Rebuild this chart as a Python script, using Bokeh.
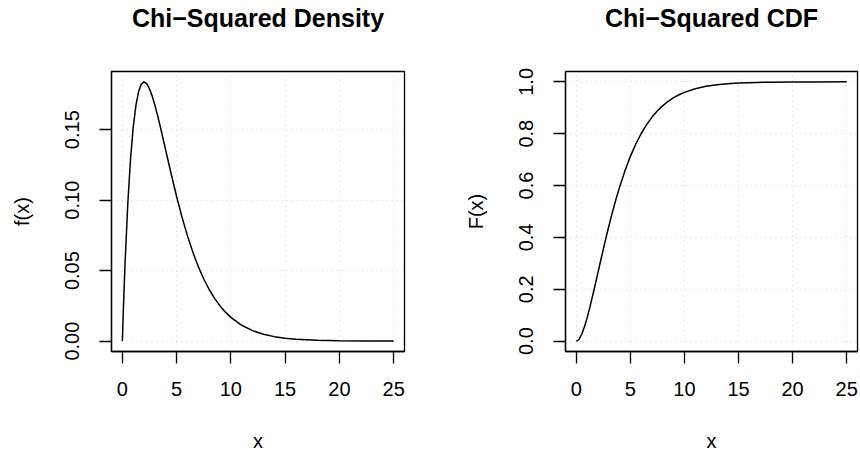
from bokeh.plotting import figure
from bokeh.layouts import row
from bokeh.models import Range1d, FixedTicker, Title
from bokeh.embed import file_html
from bokeh.resources import INLINE

# Chi-squared (df = 4) curves
x_vals = [0, 0.1, 0.25, 0.5, 0.75, 1, 1.25, 1.5, 1.75, 2, 2.25, 2.5, 2.75, 3,
          3.25, 3.5, 3.75, 4, 4.5, 5, 5.5, 6, 6.5, 7, 7.5, 8, 8.5, 9, 9.5, 10,
          11, 12, 13, 14, 15, 16, 18, 20, 22, 25]
density = [0, 0.02378, 0.05516, 0.09735, 0.12887, 0.15163, 0.16727, 0.17714,
           0.18238, 0.18394, 0.18262, 0.17906, 0.17383, 0.16735, 0.15999,
           0.15205, 0.14377, 0.13534, 0.11858, 0.10261, 0.08790, 0.07468,
           0.06301, 0.05284, 0.04410, 0.03663, 0.03031, 0.02500, 0.02055,
           0.01684, 0.01124, 0.00744, 0.00489, 0.00319, 0.00207, 0.00134,
           0.00056, 0.00023, 0.00009, 0.00002]
cdf = [0, 0.00121, 0.00719, 0.0265, 0.05498, 0.0902, 0.1302, 0.17335, 0.21839,
       0.26424, 0.31012, 0.35537, 0.39950, 0.44217, 0.48311, 0.52213, 0.55912,
       0.59399, 0.65745, 0.7127, 0.76027, 0.80085, 0.83521, 0.86411, 0.88829,
       0.90842, 0.92511, 0.9389, 0.95025, 0.95957, 0.97344, 0.98265, 0.98872,
       0.9927, 0.9953, 0.99698, 0.99877, 0.9995, 0.9998, 0.99995]

x_ticks = [0, 5, 10, 15, 20, 25]
density_ticks = [0, 0.05, 0.10, 0.15]
density_tick_labels = ["0.00", "0.05", "0.10", "0.15"]
cdf_ticks = [0, 0.2, 0.4, 0.6, 0.8, 1.0]
cdf_tick_labels = ["0.0", "0.2", "0.4", "0.6", "0.8", "1.0"]

titles = ["Chi\u2212Squared Density", "Chi\u2212Squared CDF"]
ylabels = ["f(x)", "F(x)"]

FONT = "Liberation Sans"


def make_panel(title, ylabel, ys, yticks, ytick_labels, width, border_left, border_right):
    xmin, xmax = min(x_vals), max(x_vals)
    ymin, ymax = min(ys), max(ys)
    xpad = (xmax - xmin) * 0.04
    ypad = (ymax - ymin) * 0.04
    p = figure(width=width, height=454, output_backend="svg", toolbar_location=None,
               title=None,
               x_range=Range1d(xmin - xpad, xmax + xpad),
               y_range=Range1d(ymin - ypad, ymax + ypad),
               min_border_left=border_left, min_border_right=border_right,
               min_border_top=71, min_border_bottom=103)
    # spacer between frame and title
    p.add_layout(Title(text=" ", text_font_size="2px", standoff=36), "above")
    p.add_layout(Title(text=title, align="center", text_font=FONT,
                       text_font_size="25px", text_font_style="bold",
                       text_color="black", standoff=0), "above")

    p.outline_line_color = "black"
    p.outline_line_width = 1.3
    p.outline_line_alpha = 1

    p.xaxis.ticker = FixedTicker(ticks=x_ticks)
    p.yaxis.ticker = FixedTicker(ticks=yticks)
    p.yaxis.major_label_overrides = {t: l for t, l in zip(yticks, ytick_labels)}
    p.xaxis.major_label_overrides = {t: str(t) for t in x_ticks}
    p.yaxis.major_label_orientation = "vertical"

    for ax in (p.xaxis[0], p.yaxis[0]):
        ax.axis_line_color = "black"
        ax.axis_line_width = 1.3
        ax.major_tick_line_color = "black"
        ax.major_tick_line_width = 1.3
        ax.major_tick_out = 12
        ax.major_tick_in = 0
        ax.minor_tick_line_color = None
        ax.major_label_text_font = FONT
        ax.major_label_text_font_size = "20px"
        ax.major_label_text_color = "black"
        ax.axis_label_text_font = FONT
        ax.axis_label_text_font_size = "20px"
        ax.axis_label_text_font_style = "normal"
        ax.axis_label_text_color = "black"
    p.xaxis.axis_label = "x"
    p.yaxis.axis_label = ylabel
    p.xaxis.major_label_standoff = 18
    p.xaxis.axis_label_standoff = 31
    p.yaxis.major_label_standoff = 20
    p.yaxis.axis_label_standoff = 30

    for g in (p.xgrid[0], p.ygrid[0]):
        g.grid_line_color = "#d3d3d3"
        g.grid_line_dash = "1 4"
        g.grid_line_width = 1
    p.xgrid.ticker = FixedTicker(ticks=x_ticks)
    p.ygrid.ticker = FixedTicker(ticks=yticks)

    p.line(x_vals, ys, line_color="black", line_width=1.5)
    return p


p1 = make_panel(titles[0], ylabels[0], density, density_ticks, density_tick_labels, 461, 111, 57)
p2 = make_panel(titles[1], ylabels[1], cdf, cdf_ticks, cdf_tick_labels, 399, 103, 3)

layout = row(p1, p2)
open("out.html", "w").write(file_html(layout, INLINE))
